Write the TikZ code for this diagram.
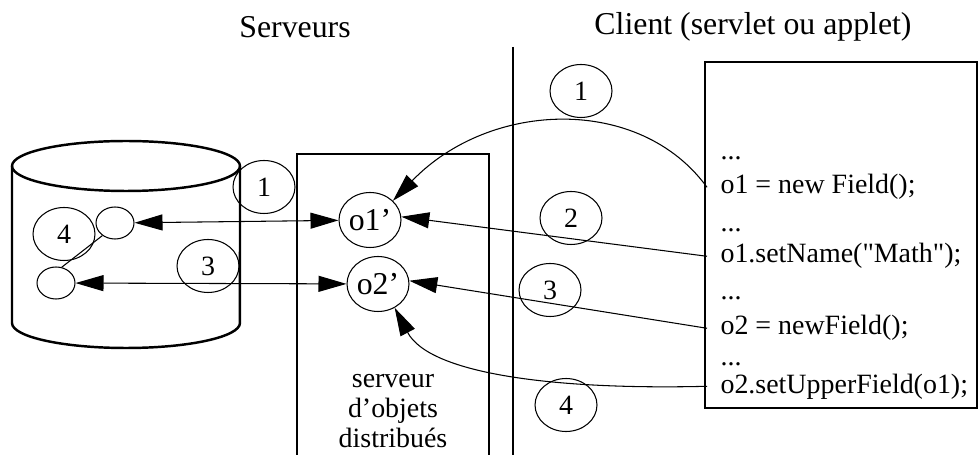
\documentclass[tikz,border=0pt]{standalone}
\usepackage{fontspec}
\setmainfont{Liberation Serif}[Ligatures=TeXOff]
\usetikzlibrary{shapes.geometric,arrows.meta}
\newcommand{\titlefont}{\fontsize{18.1}{21}\selectfont}
\newcommand{\codefont}{\fontsize{15.9}{17}\selectfont}
\tikzset{
  stepnum/.style={draw, ellipse, minimum width=1.24cm, minimum height=1.06cm, inner sep=0pt, font=\codefont},
  objnode/.style={draw, ellipse, minimum width=1.24cm, minimum height=1.1cm, inner sep=0pt, font=\titlefont},
  recnode/.style={draw, ellipse, minimum width=0.76cm, minimum height=0.64cm, inner sep=0pt},
  call/.style={-{Triangle[length=0.56cm,width=0.32cm]}},
  link/.style={{Triangle[length=0.56cm,width=0.32cm]}-{Triangle[length=0.56cm,width=0.32cm]}},
  codeline/.style={font=\codefont, anchor=base west, inner xsep=0.26cm, inner ysep=1pt}
}
\begin{document}
\begin{tikzpicture}[x=0.02cm, y=-0.02cm, line width=0.6pt]
  \useasboundingbox (0,0) rectangle (979,455);
  % Titles and divider
  \node[font=\titlefont] (srvtitle) at (295,27) {Serveurs};
  \node[font=\titlefont] (clititle) at (753,27) {Client (servlet ou applet)};
  \draw (513,47) -- (513,456);
  % Database
  \draw[line width=1.4pt] (126,166) ellipse [x radius=2.28cm, y radius=0.5cm];
  \draw[line width=1.4pt] (12,166) -- (12,323)
    arc[start angle=180, end angle=360, x radius=2.28cm, y radius=0.5cm] -- (240,166);
  \node[recnode] (rec1) at (115,223) {};
  \node[recnode] (rec2) at (56,283) {};
  \draw (rec1.225) -- (rec2.70);
  \node[stepnum] (n4a) at (64,234) {4};
  \node[stepnum] (n1a) at (264,187) {1};
  \node[stepnum] (n3a) at (208,266) {3};
  % Object server
  \draw (297,154) rectangle (489,460);
  \node[objnode] (o1) at (370,220) {o1’};
  \node[objnode] (o2) at (378,284) {o2’};
  \node[font=\codefont, align=center, anchor=base] (srvlabel) at (393,447) {serveur\\d’objets\\distribués};
  \draw[link] (rec1) -- (o1);
  \draw[link] (rec2) -- (o2);
  % Client code
  \draw (705,62) rectangle (977,408);
  \node[codeline] (d1) at (707,160) {...};
  \node[codeline] (c1) at (707,194) {o1 = new Field();};
  \node[codeline] (d2) at (707,232) {...};
  \node[codeline] (c2) at (707,263) {o1.setName("Math");};
  \node[codeline] (d3) at (707,300) {...};
  \node[codeline] (c3) at (707,335) {o2 = newField();};
  \node[codeline] (d4) at (707,365) {...};
  \node[codeline] (c4) at (707,393) {o2.setUpperField(o1);};
  % Steps
  \node[stepnum] (n1b) at (581,91) {1};
  \node[stepnum] (n2b) at (571,218) {2};
  \node[stepnum] (n3b) at (550,290) {3};
  \node[stepnum] (n4b) at (566,405) {4};
  \draw[call] (c1.west) .. controls (640,95) and (490,100) .. (o1.40);
  \draw[call] (c2.west) -- (o1.6);
  \draw[call] (c3.west) -- (o2.6);
  \draw[call] (c4.west) .. controls (560,390) and (430,375) .. (o2.-55);
\end{tikzpicture}
\end{document}
